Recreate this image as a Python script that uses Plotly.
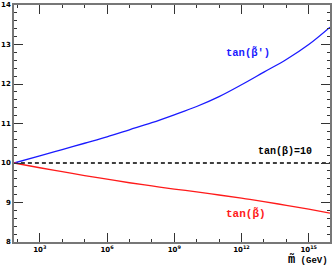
import plotly.graph_objects as go

# Data (m in GeV, log axis)
m_gev = [70, 1e3, 1e4, 1e5, 1e6, 1e7, 1e8, 1e9, 1e10, 1e11, 1e12, 1e13, 1e14, 1e15, 8.9e15]
tan_beta_prime = [10.0, 10.18, 10.34, 10.5, 10.66, 10.84, 11.02, 11.22, 11.43, 11.68, 11.98, 12.3, 12.62, 13.0, 13.44]
tan_beta_tilde = [10.0, 9.88, 9.78, 9.68, 9.59, 9.5, 9.42, 9.34, 9.27, 9.19, 9.11, 9.02, 8.93, 8.83, 8.73]
tan_beta_ref = [10.0] * len(m_gev)

x_tickvals = [1e3, 1e6, 1e9, 1e12, 1e15]
x_ticktext = ["10<sup>3</sup>", "10<sup>6</sup>", "10<sup>9</sup>", "10<sup>12</sup>", "10<sup>15</sup>"]
x_minorvals = [1e2, 1e4, 1e5, 1e7, 1e8, 1e10, 1e11, 1e13, 1e14]
y_tickvals = [8, 9, 10, 11, 12, 13, 14]

fig = go.Figure()
fig.add_trace(go.Scatter(x=m_gev, y=tan_beta_ref, mode="lines",
                         line=dict(color="black", width=1.3, dash="4px,3px")))
fig.add_trace(go.Scatter(x=m_gev, y=tan_beta_prime, mode="lines",
                         line=dict(color="#1a1aff", width=1.3, shape="spline")))
fig.add_trace(go.Scatter(x=m_gev, y=tan_beta_tilde, mode="lines",
                         line=dict(color="#ff1a1a", width=1.3, shape="spline")))

fig.add_annotation(x=12.27, y=12.81, text="tan(β̃')", showarrow=False,
                   font=dict(family="Liberation Mono", size=10.5, weight="bold", color="#1a1aff"))
fig.add_annotation(x=13.93, y=10.28, text="tan(β)=10", showarrow=False,
                   font=dict(family="Liberation Mono", size=10, weight="bold", color="black"))
fig.add_annotation(x=12.22, y=8.73, text="tan(β̃)", showarrow=False,
                   font=dict(family="Liberation Mono", size=11, weight="bold", color="#ff1a1a"))
fig.add_annotation(xref="paper", yref="paper", x=1.0, y=-0.076, xanchor="right",
                   yanchor="middle", text="<span style='font-size:12px'>m̃</span> (GeV)",
                   showarrow=False,
                   font=dict(family="Liberation Mono", size=9, weight="bold", color="black"))

axis_common = dict(showgrid=False, zeroline=False, showline=True, linecolor="#777",
                   linewidth=1.5, mirror="ticks", ticks="inside", tickcolor="#333",
                   tickwidth=1, ticklen=9, automargin=False,
                   tickfont=dict(family="DejaVu Sans", size=7, weight="bold", color="black"))

fig.update_xaxes(type="log", range=[1.85, 15.95], tickmode="array",
                 tickvals=x_tickvals, ticktext=x_ticktext,
                 minor=dict(tickmode="array", tickvals=x_minorvals, ticklen=3,
                            ticks="inside", tickcolor="#333"),
                 **axis_common)
fig.update_yaxes(range=[8, 14], tickmode="array", tickvals=y_tickvals,
                 minor=dict(dtick=0.2, ticklen=3, ticks="inside", tickcolor="#333"),
                 **axis_common)

fig.update_layout(width=333, height=273, showlegend=False,
                  margin=dict(l=14, r=3, t=5, b=31),
                  plot_bgcolor="white", paper_bgcolor="white")
fig.write_html("out.html", config={"displayModeBar": False},
               post_script="document.body.style.margin='0';document.body.style.overflow='hidden';")
